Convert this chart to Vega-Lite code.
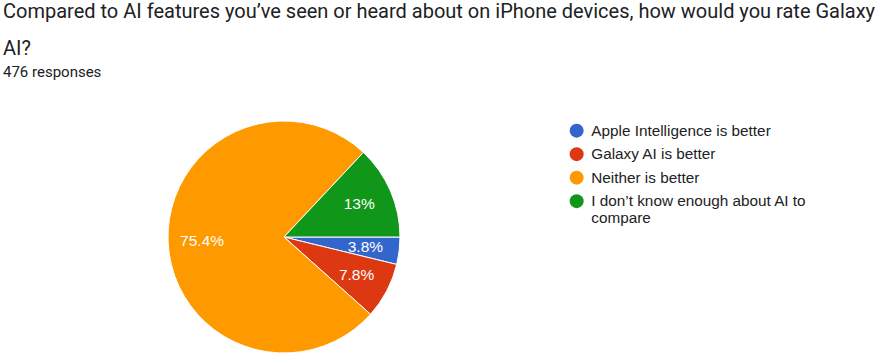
{
  "$schema": "https://vega.github.io/schema/vega-lite/v6.json",
  "width": 568,
  "height": 232,
  "padding": {"top": 2, "left": 0, "right": 0, "bottom": 0},
  "background": "white",
  "title": {
    "text": ["Compared to AI features you’ve seen or heard about on iPhone devices, how would you rate Galaxy", "AI?"],
    "subtitle": "476 responses",
    "anchor": "start",
    "frame": "group",
    "dx": 3,
    "font": "Roboto",
    "fontSize": 20,
    "fontWeight": "normal",
    "lineHeight": 37,
    "color": "#202124",
    "subtitleFont": "Roboto",
    "subtitleFontSize": 15,
    "subtitleColor": "#202124",
    "subtitlePadding": 6,
    "offset": 39
  },
  "data": {
    "values": [
      {"answer": "Apple Intelligence is better", "rank": 1, "value": 3.8, "label": "3.8%"},
      {"answer": "Galaxy AI is better", "rank": 2, "value": 7.8, "label": "7.8%"},
      {"answer": "Neither is better", "rank": 3, "value": 75.4, "label": "75.4%"},
      {"answer": "I don’t know enough about AI to compare", "rank": 4, "value": 13.0, "label": "13%"}
    ]
  },
  "encoding": {
    "theta": {"field": "value", "type": "quantitative", "stack": true, "scale": {"range": [1.5708, 7.8540]}},
    "order": {"field": "rank", "type": "quantitative", "sort": "ascending"},
    "color": {
      "field": "answer",
      "type": "nominal",
      "sort": ["Apple Intelligence is better", "Galaxy AI is better", "Neither is better", "I don’t know enough about AI to compare"],
      "scale": {
        "domain": ["Apple Intelligence is better", "Galaxy AI is better", "Neither is better", "I don’t know enough about AI to compare"],
        "range": ["#3366CC", "#DC3912", "#FF9900", "#109618"]
      },
      "legend": {
        "title": null,
        "orient": "none",
        "legendX": 569,
        "legendY": 2,
        "padding": 0,
        "symbolType": "circle",
        "symbolSize": 196,
        "symbolStrokeWidth": 0,
        "labelFont": "Liberation Sans",
        "labelFontSize": 15.3,
        "labelColor": "#222222",
        "labelOffset": 7,
        "labelLimit": 400,
        "rowPadding": 7.5,
        "labelExpr": "datum.label == 'I don’t know enough about AI to compare' ? ['I don’t know enough about AI to', 'compare'] : datum.label"
      }
    }
  },
  "layer": [
    {
      "mark": {"type": "arc", "stroke": "white", "strokeWidth": 1}
    },
    {
      "mark": {"type": "text", "font": "Liberation Sans", "fontSize": 15.5},
      "encoding": {
        "text": {"field": "label", "type": "nominal"},
        "fill": {"value": "white"},
        "radius": {"condition": {"test": "datum.value < 5", "value": 93}, "value": 82}
      }
    }
  ],
  "config": {"view": {"stroke": null}}
}
